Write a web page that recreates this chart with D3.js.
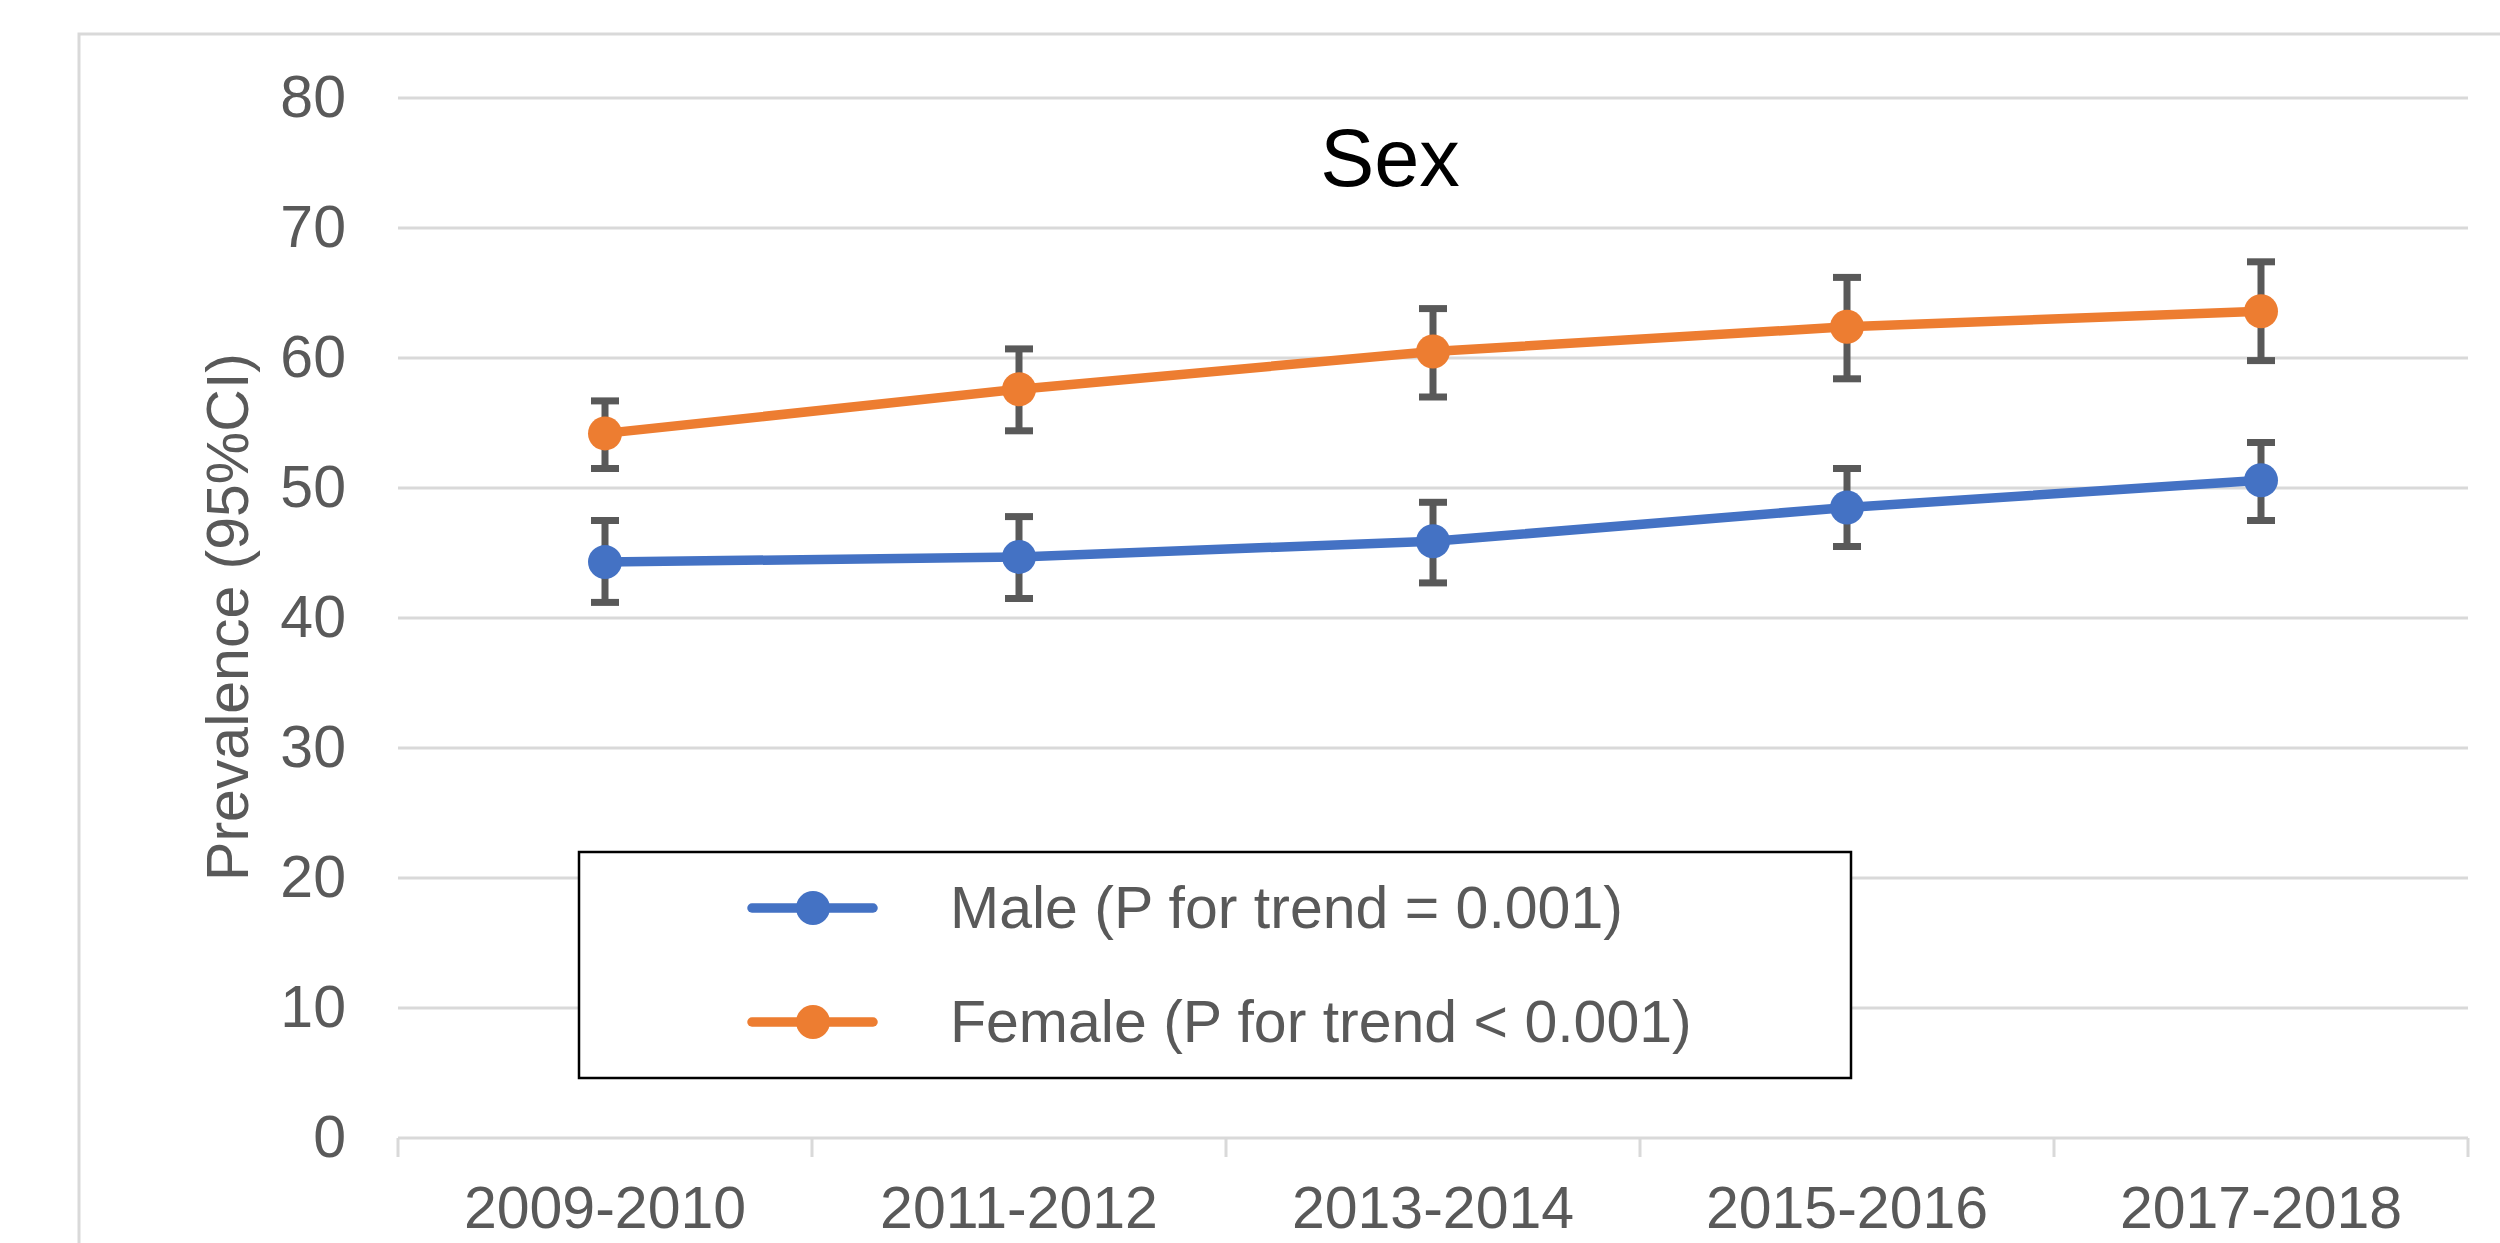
<!DOCTYPE html>
<html>
<head>
<meta charset="utf-8">
<script src="https://cdn.jsdelivr.net/npm/d3@7"></script>
<style>
  html, body { margin: 0; padding: 0; background: #ffffff; }
  svg { display: block; font-family: "Liberation Sans", Arial, sans-serif; }
</style>
</head>
<body>
<svg id="chart" width="2500" height="1243"></svg>
<script>
// ---- Data ----
const categories = ["2009-2010", "2011-2012", "2013-2014", "2015-2016", "2017-2018"];
const yTicks = [0, 10, 20, 30, 40, 50, 60, 70, 80];

const maleValues = [44.3, 44.7, 45.9, 48.5, 50.6];
const maleLower  = [41.2, 41.5, 42.7, 45.5, 47.5];
const maleUpper  = [47.5, 47.8, 48.9, 51.5, 53.5];

const femaleValues = [54.2, 57.6, 60.5, 62.4, 63.6];
const femaleLower  = [51.5, 54.4, 57.0, 58.4, 59.8];
const femaleUpper  = [56.7, 60.7, 63.8, 66.2, 67.4];

const seriesNames = ["Male (P for trend = 0.001)", "Female (P for trend < 0.001)"];
const seriesColors = ["#4472C4", "#ED7D31"];
const chartTitle = "Sex";
const yAxisTitle = "Prevalence (95%CI)";

const series = [
  { name: seriesNames[0], color: seriesColors[0], values: maleValues, lo: maleLower, hi: maleUpper },
  { name: seriesNames[1], color: seriesColors[1], values: femaleValues, lo: femaleLower, hi: femaleUpper }
];

// ---- Layout ----
const svg = d3.select("#chart");
const plot = { left: 398, right: 2468, top: 98, bottom: 1138 };
const textColor = "#595959";
const gridColor = "#d9d9d9";
const fontSize = 59;

const x = d3.scaleBand().domain(categories).range([plot.left, plot.right]).padding(0);
const y = d3.scaleLinear().domain([0, 80]).range([plot.bottom, plot.top]);

// chart area border
svg.append("rect")
  .attr("x", 79).attr("y", 34)
  .attr("width", 2600).attr("height", 1400)
  .attr("fill", "none")
  .attr("stroke", gridColor)
  .attr("stroke-width", 3);

// gridlines
svg.append("g").selectAll("line")
  .data(yTicks.filter(d => d > 0))
  .join("line")
  .attr("x1", plot.left).attr("x2", plot.right)
  .attr("y1", d => y(d)).attr("y2", d => y(d))
  .attr("stroke", gridColor).attr("stroke-width", 3);

// y axis labels
const yAxis = d3.axisLeft(y).tickValues(yTicks).tickSize(0).tickPadding(52);
const gy = svg.append("g").attr("transform", `translate(${plot.left},0)`).call(yAxis);
gy.select(".domain").remove();
gy.selectAll("text")
  .attr("fill", textColor)
  .attr("font-size", fontSize)
  .attr("font-family", "Liberation Sans, Arial, sans-serif");

// x axis
svg.append("line")
  .attr("x1", plot.left).attr("x2", plot.right)
  .attr("y1", y(0)).attr("y2", y(0))
  .attr("stroke", gridColor).attr("stroke-width", 3);

const edges = categories.map(c => x(c)).concat([x(categories[categories.length - 1]) + x.bandwidth()]);
svg.append("g").selectAll("line")
  .data(edges)
  .join("line")
  .attr("x1", d => d).attr("x2", d => d)
  .attr("y1", y(0)).attr("y2", y(0) + 19)
  .attr("stroke", gridColor).attr("stroke-width", 3);

svg.append("g").selectAll("text")
  .data(categories)
  .join("text")
  .attr("x", d => x(d) + x.bandwidth() / 2)
  .attr("y", 1228)
  .attr("text-anchor", "middle")
  .attr("fill", textColor)
  .attr("font-size", fontSize)
  .text(d => d);

// y axis title
svg.append("text")
  .attr("transform", `translate(248, 617) rotate(-90)`)
  .attr("text-anchor", "middle")
  .attr("fill", textColor)
  .attr("font-size", fontSize)
  .text(yAxisTitle);

// title
svg.append("text")
  .attr("x", 1390).attr("y", 186)
  .attr("text-anchor", "middle")
  .attr("fill", "#000000")
  .attr("font-size", 81)
  .text(chartTitle);

const cx = c => x(c) + x.bandwidth() / 2;

// error bars
series.forEach(s => {
  const g = svg.append("g");
  const capW = 14;
  categories.forEach((c, i) => {
    g.append("line")
      .attr("x1", cx(c)).attr("x2", cx(c))
      .attr("y1", y(s.lo[i])).attr("y2", y(s.hi[i]))
      .attr("stroke", textColor).attr("stroke-width", 7);
    [s.lo[i], s.hi[i]].forEach(v => {
      g.append("line")
        .attr("x1", cx(c) - capW).attr("x2", cx(c) + capW)
        .attr("y1", y(v)).attr("y2", y(v))
        .attr("stroke", textColor).attr("stroke-width", 7);
    });
  });
});

// lines and markers
series.forEach(s => {
  const line = d3.line().x((d, i) => cx(categories[i])).y(d => y(d));
  svg.append("path")
    .datum(s.values)
    .attr("d", line)
    .attr("fill", "none")
    .attr("stroke", s.color)
    .attr("stroke-width", 9.5)
    .attr("stroke-linejoin", "round");
  svg.append("g").selectAll("circle")
    .data(s.values)
    .join("circle")
    .attr("cx", (d, i) => cx(categories[i]))
    .attr("cy", d => y(d))
    .attr("r", 17)
    .attr("fill", s.color);
});

// legend
const legend = svg.append("g");
legend.append("rect")
  .attr("x", 579).attr("y", 852)
  .attr("width", 1272).attr("height", 226)
  .attr("fill", "#ffffff")
  .attr("stroke", "#000000")
  .attr("stroke-width", 2.5);

const legendY = [908, 1022];
series.forEach((s, i) => {
  legend.append("line")
    .attr("x1", 752).attr("x2", 873)
    .attr("y1", legendY[i]).attr("y2", legendY[i])
    .attr("stroke", s.color).attr("stroke-width", 9.5)
    .attr("stroke-linecap", "round");
  legend.append("circle")
    .attr("cx", 813).attr("cy", legendY[i])
    .attr("r", 17).attr("fill", s.color);
  legend.append("text")
    .attr("x", 950).attr("y", legendY[i] + 20)
    .attr("fill", textColor)
    .attr("font-size", fontSize)
    .text(s.name);
});
</script>
</body>
</html>
